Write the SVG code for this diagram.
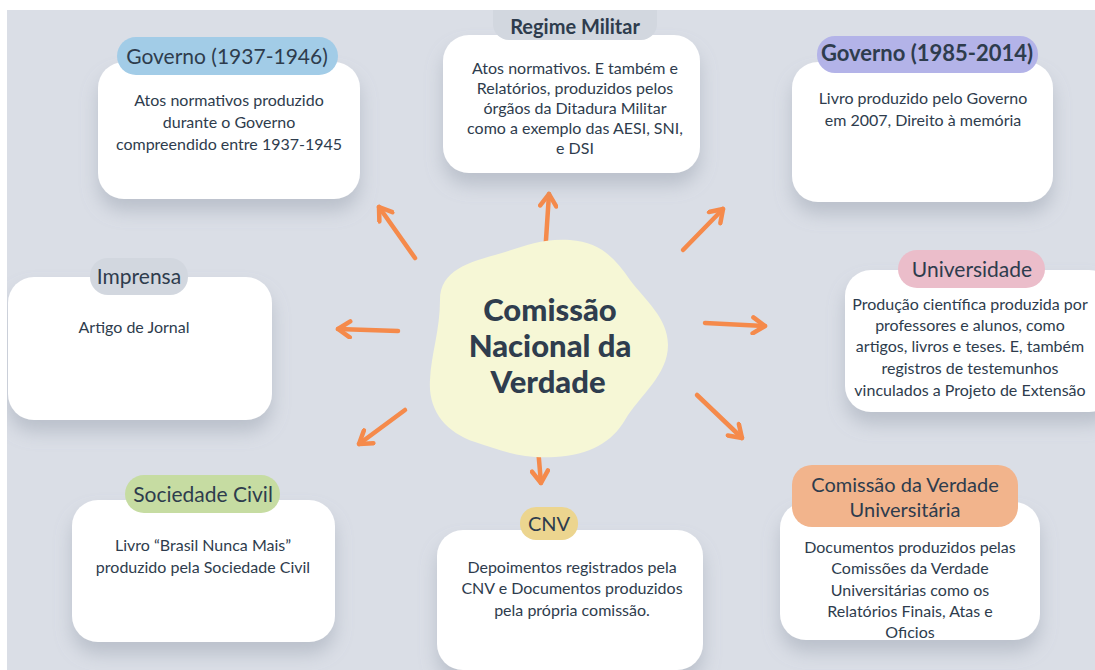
<svg xmlns="http://www.w3.org/2000/svg" width="1095" height="670" viewBox="0 0 1095 670">
<defs>
<style>
.card{fill:#ffffff;filter:url(#sh)}
.tt{font-family:Lato,"Noto Sans",sans-serif;font-size:21px;fill:#2e3c4d;text-anchor:middle}
.tb{font-family:Lato,"Noto Sans",sans-serif;font-size:20px;font-weight:bold;fill:#2e3c4d;text-anchor:middle}
.bd{font-family:Lato,"Noto Sans",sans-serif;font-size:16px;fill:#2e3c4d;text-anchor:middle}
.ctr{font-family:Lato,"Noto Sans",sans-serif;font-size:31px;font-weight:900;fill:#2f3d4e;text-anchor:middle}
.arr{stroke:#f58a4b;stroke-width:4.5;stroke-linecap:round;fill:none;marker-end:url(#ah)}
</style>
<filter id="sh" x="-20%" y="-20%" width="140%" height="160%">
<feDropShadow dx="0" dy="12" stdDeviation="9" flood-color="#8a93a3" flood-opacity="0.4"/>
</filter>
<marker id="ah" viewBox="-16 -10 20 20" refX="0" refY="0" markerWidth="20" markerHeight="20" markerUnits="userSpaceOnUse" orient="auto">
<path d="M-12,-8 L0,0 L-12,8" stroke="#f58a4b" stroke-width="4.5" stroke-linecap="round" stroke-linejoin="round" fill="none"/>
</marker>
</defs>
<rect x="0" y="0" width="1095" height="670" fill="#dadee6"/>

<g id="connectors">
<path class="arr" d="M415,258 L379,207"/>
<path class="arr" d="M545,255 L549,194"/>
<path class="arr" d="M683,250 L723,209"/>
<path class="arr" d="M398,331 L338,329"/>
<path class="arr" d="M705,323 L765,326"/>
<path class="arr" d="M405,410 L359,444"/>
<path class="arr" d="M536,425 L541,483"/>
<path class="arr" d="M697,395 L742,438"/>
</g>

<g id="center">
<path d="M440,300 C440,270 470,262 495,255 C520,248 540,238 570,240 C600,242 615,258 630,280 C645,300 668,318 668,345 C668,375 640,395 625,420 C612,442 590,455 555,457 C520,459 500,450 475,442 C445,432 428,410 430,380 C431,355 440,330 440,300 Z" fill="#f6f7d6"/>
<text class="ctr" x="550" y="321">Comissão</text>
<text class="ctr" x="550" y="357">Nacional da</text>
<text class="ctr" x="548" y="393">Verdade</text>
</g>

<g id="governo1937">
<rect class="card" x="98" y="62" width="262" height="137" rx="26"/>
<rect x="117" y="37" width="221" height="38" rx="19" fill="#a2cce7"/>
<text class="tt" x="227" y="64">Governo (1937-1946)</text>
<text class="bd" x="229" y="106">Atos normativos produzido</text>
<text class="bd" x="229" y="128">durante o Governo</text>
<text class="bd" x="229" y="150">compreendido entre 1937-1945</text>
</g>

<g id="regime">
<rect class="card" x="443" y="35" width="257" height="138" rx="26"/>
<rect x="493" y="-10" width="164" height="50" rx="16" fill="#d2d7df"/>
<text class="tb" x="575" y="34">Regime Militar</text>
<text class="bd" x="575" y="74">Atos normativos. E também e</text>
<text class="bd" x="575" y="94">Relatórios, produzidos pelos</text>
<text class="bd" x="575" y="114">órgãos da Ditadura Militar</text>
<text class="bd" x="575" y="134">como a exemplo das AESI, SNI,</text>
<text class="bd" x="575" y="154">e DSI</text>
</g>

<g id="governo1985">
<rect class="card" x="792" y="62" width="261" height="140" rx="26"/>
<rect x="817" y="36" width="221" height="37" rx="18" fill="#b3b3e8"/>
<text class="tb" x="927" y="61" style="font-size:22px">Governo (1985-2014)</text>
<text class="bd" x="923" y="104">Livro produzido pelo Governo</text>
<text class="bd" x="923" y="126">em 2007, Direito à memória</text>
</g>

<g id="imprensa">
<rect class="card" x="8" y="277" width="264" height="143" rx="26"/>
<rect x="90" y="258" width="98" height="37" rx="18" fill="#d2d7df"/>
<text class="tt" x="139" y="284">Imprensa</text>
<text class="bd" x="134" y="333">Artigo de Jornal</text>
</g>

<g id="universidade">
<rect class="card" x="845" y="270" width="270" height="142" rx="26"/>
<rect x="898" y="250" width="147" height="38" rx="19" fill="#ebbdca"/>
<text class="tt" x="972" y="277">Universidade</text>
<text class="bd" x="970" y="310">Produção científica produzida por</text>
<text class="bd" x="970" y="331">professores e alunos, como</text>
<text class="bd" x="970" y="352">artigos, livros e teses. E, também</text>
<text class="bd" x="970" y="374">registros de testemunhos</text>
<text class="bd" x="970" y="396">vinculados a Projeto de Extensão</text>
</g>

<g id="sociedade">
<rect class="card" x="72" y="500" width="263" height="142" rx="26"/>
<rect x="125" y="475" width="155" height="38" rx="19" fill="#c6dca2"/>
<text class="tt" x="203" y="502">Sociedade Civil</text>
<text class="bd" x="203" y="551">Livro “Brasil Nunca Mais”</text>
<text class="bd" x="203" y="573">produzido pela Sociedade Civil</text>
</g>

<g id="cnv">
<rect class="card" x="437" y="530" width="266" height="140" rx="26"/>
<rect x="520" y="507" width="58" height="33" rx="16" fill="#ecd58f"/>
<text class="tt" x="549" y="531" style="font-size:20px">CNV</text>
<text class="bd" x="572" y="573">Depoimentos registrados pela</text>
<text class="bd" x="572" y="594">CNV e Documentos produzidos</text>
<text class="bd" x="572" y="616">pela própria comissão.</text>
</g>

<g id="cvu">
<rect class="card" x="780" y="502" width="260" height="138" rx="26"/>
<rect x="792" y="465" width="226" height="62" rx="20" fill="#f2b48c"/>
<text class="tt" x="905" y="492" style="font-size:20px">Comissão da Verdade</text>
<text class="tt" x="905" y="517" style="font-size:20px">Universitária</text>
<text class="bd" x="910" y="553">Documentos produzidos pelas</text>
<text class="bd" x="910" y="574">Comissões da Verdade</text>
<text class="bd" x="910" y="596">Universitárias como os</text>
<text class="bd" x="910" y="617">Relatórios Finais, Atas e</text>
<text class="bd" x="910" y="638">Oficios</text>
</g>

<rect x="0" y="0" width="1095" height="10" fill="#ffffff"/>
<rect x="0" y="0" width="7" height="670" fill="#ffffff"/>
</svg>
